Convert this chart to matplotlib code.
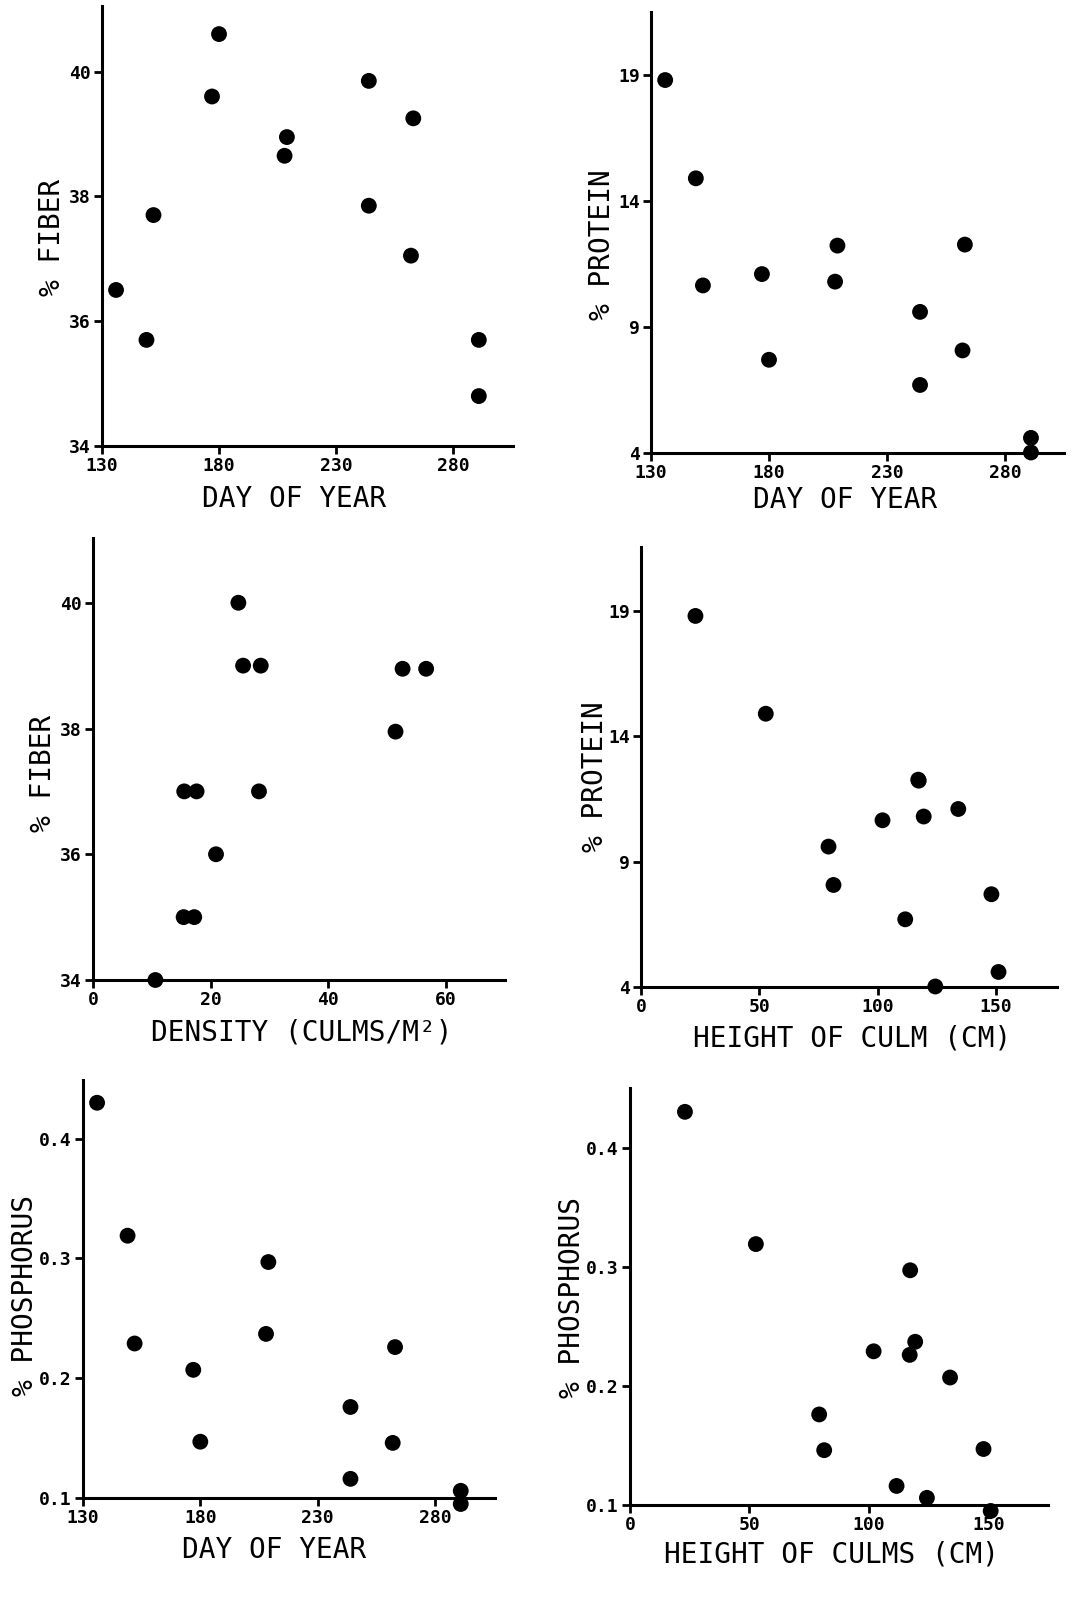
import matplotlib
matplotlib.use("Agg")
import matplotlib.pyplot as plt

# sample dates and the nutrient values measured on them
days = [136, 149, 152, 177, 180, 209, 208, 244, 244, 262, 263, 291, 291]
heights = [23, 52.7, 102, 134, 148, 117.3, 119.4, 79.2, 111.6, 81.3, 117.1, 124.3, 151]
fiber = [36.5, 35.7, 37.7, 39.6, 40.6, 38.95, 38.65, 37.85, 39.85, 37.05, 39.25, 35.7, 34.8]
protein = [18.8, 14.9, 10.65, 11.1, 7.7, 12.23, 10.8, 9.6, 6.7, 8.07, 12.27, 4.02, 4.6]
phosphorus = [0.43, 0.319, 0.229, 0.207, 0.147, 0.297, 0.237, 0.176, 0.116, 0.146, 0.226, 0.106, 0.095]

# culm density against fiber
density = [10.6, 15.4, 17.2, 15.5, 17.6, 20.9, 24.7, 25.5, 28.2, 28.5, 51.4, 52.6, 56.6]
fiber_d = [34.0, 35.0, 35.0, 37.0, 37.0, 36.0, 40.0, 39.0, 37.0, 39.0, 37.95, 38.95, 38.95]

day_ticks = [130, 180, 230, 280]
fiber_ticks = [34, 36, 38, 40]
protein_ticks = [4, 9, 14, 19]
phos_ticks = [0.1, 0.2, 0.3, 0.4]
phos_labels = ["0.1", "0.2", "0.3", "0.4"]
density_ticks = [0, 20, 40, 60]
height_ticks = [0, 50, 100, 150]

W, H = 1078, 1604
fig = plt.figure(figsize=(W / 100, H / 100), dpi=100)
fig.patch.set_facecolor("white")

MONO = "DejaVu Sans Mono"


def panel(box, x, y, xlim, ylim, xticks, yticks, xlabel, ylabel, xlab_at, ylab_at,
          yticklabels=None):
    left, right, top, bottom = box
    ax = fig.add_axes([left / W, 1 - bottom / H, (right - left) / W, (bottom - top) / H])
    ax.scatter(x, y, s=130, c="black", edgecolors="none", clip_on=False, zorder=3)
    ax.set_xlim(*xlim)
    ax.set_ylim(*ylim)
    for side in ("top", "right"):
        ax.spines[side].set_visible(False)
    for side in ("left", "bottom"):
        ax.spines[side].set_linewidth(2.2)
    ax.set_xticks(xticks)
    ax.set_yticks(yticks)
    if yticklabels is not None:
        ax.set_yticklabels(yticklabels)
    ax.tick_params(direction="out", length=6, width=2, pad=2,
                   labelsize=13)
    for lab in ax.get_xticklabels() + ax.get_yticklabels():
        lab.set_fontfamily(MONO)
        lab.set_fontweight("bold")
    ax.set_xlabel(xlabel, fontsize=20, fontfamily=MONO)
    ax.set_ylabel(ylabel, fontsize=20, fontfamily=MONO)
    # put the axis labels at fixed spots in pixel terms
    fx = (xlab_at[0] - left) / (right - left)
    fy = (bottom - xlab_at[1]) / (bottom - top)
    ax.xaxis.set_label_coords(fx, fy)
    ax.xaxis.label.set_verticalalignment("center")
    gx = (ylab_at[0] - left) / (right - left)
    gy = (bottom - ylab_at[1]) / (bottom - top)
    ax.yaxis.set_label_coords(gx, gy)
    ax.yaxis.label.set_verticalalignment("center")
    return ax


panel((102, 513, 6, 446), days, fiber, (130, 305.6), (34, 41.05),
      day_ticks, fiber_ticks, "DAY OF YEAR", "% FIBER", (294, 499), (52, 237))

panel((651, 1064, 12, 453), days, protein, (130, 305), (4, 21.5),
      day_ticks, protein_ticks, "DAY OF YEAR", "% PROTEIN", (845, 500), (602, 245))

panel((93, 505, 538, 980), density, fiber_d, (0, 70), (34, 41.03),
      density_ticks, fiber_ticks, "DENSITY (CULMS/M²)", "% FIBER", (302, 1033), (43, 773))

panel((641, 1057, 547, 987), heights, protein, (0, 175.7), (4, 21.55),
      height_ticks, protein_ticks, "HEIGHT OF CULM (CM)", "% PROTEIN", (852, 1038), (595, 777))

panel((83, 495, 1080, 1498), days, phosphorus, (130, 305.6), (0.1, 0.449),
      day_ticks, phos_ticks, "DAY OF YEAR", "% PHOSPHORUS", (274, 1550), (25, 1295),
      yticklabels=phos_labels)

panel((630, 1048, 1088, 1505), heights, phosphorus, (0, 175), (0.1, 0.45),
      height_ticks, phos_ticks, "HEIGHT OF CULMS (CM)", "% PHOSPHORUS", (832, 1555), (572, 1298),
      yticklabels=phos_labels)

fig.savefig("out.png", dpi=100, facecolor="white")
